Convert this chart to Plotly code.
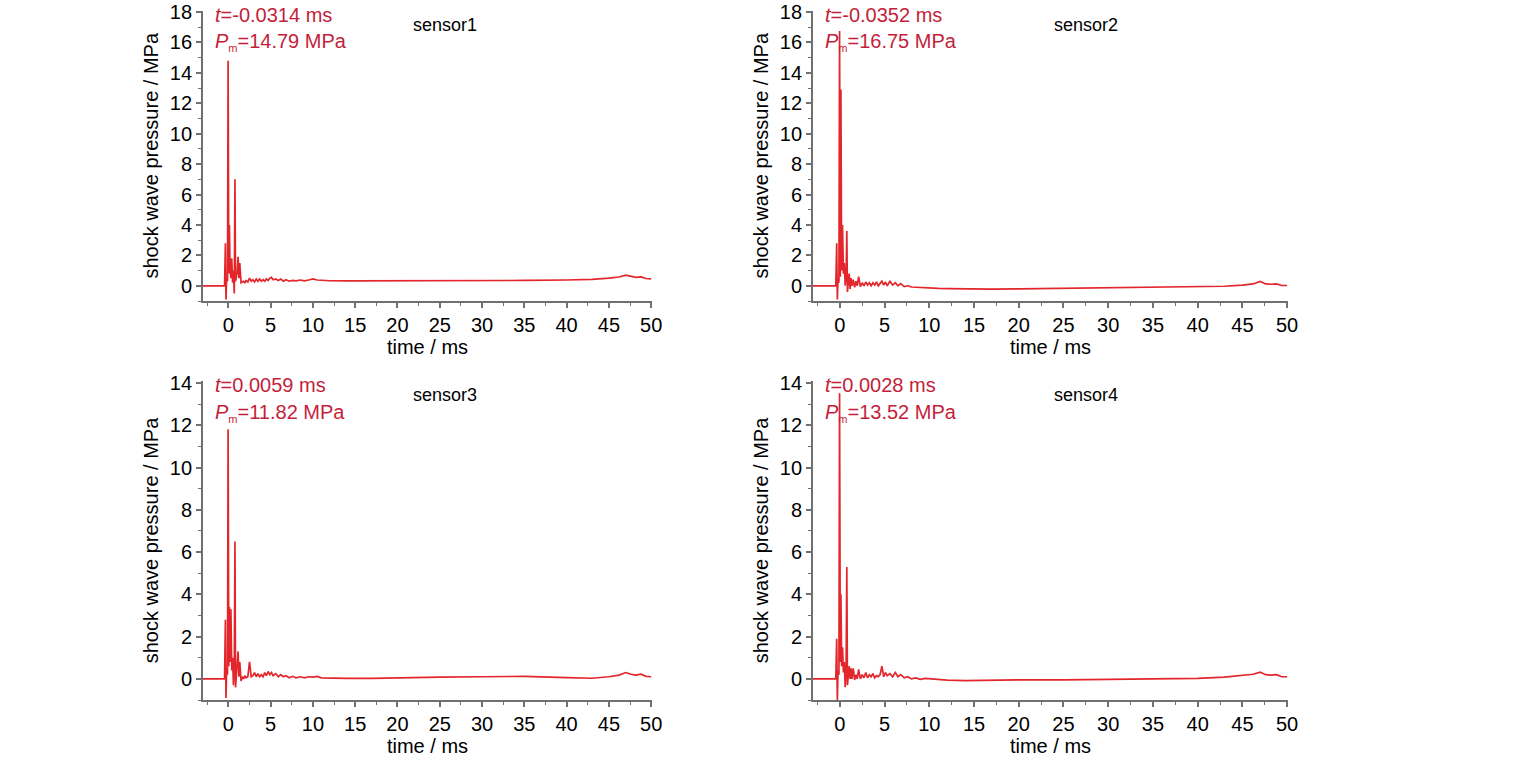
import plotly.graph_objects as go

# ---------------- data ----------------
time_ms = [
    -3.0, -0.45, -0.35, -0.28, -0.2, -0.1, -0.03, 0.05, 0.12, 0.2,
    0.3, 0.4, 0.5, 0.6, 0.7, 0.78, 0.85, 0.95, 1.05, 1.15,
    1.25, 1.35, 1.5, 1.65, 1.8, 1.95, 2.1, 2.3, 2.5, 2.7,
    2.9, 3.1, 3.3, 3.5, 3.7, 3.9, 4.1, 4.3, 4.5, 4.7,
    4.9, 5.1, 5.3, 5.6, 5.9, 6.2, 6.5, 6.8, 7.2, 7.6,
    8.0, 8.5, 9.0, 9.5, 10.0, 10.5, 11.0, 12.0, 14.0, 17.0,
    20.0, 25.0, 30.0, 35.0, 40.0, 43.0, 45.0, 46.2, 47.0, 47.6,
    48.2, 48.8, 49.4, 50.0,
]

sensor1 = [
    0.0, 0.0, 2.8, -0.9, 0.6, 0.3, 14.79, 0.8, 4.0, 1.2,
    0.5, 1.8, 0.2, 1.0, -0.5, 7.0, 0.3, 0.6, 0.9, 1.9,
    0.5, 1.5, 0.2, 0.25, 0.3, 0.2, 0.35, 0.25, 0.5, 0.3,
    0.4, 0.25, 0.45, 0.3, 0.45, 0.3, 0.4, 0.3, 0.45, 0.35,
    0.5, 0.55, 0.4, 0.45, 0.35, 0.45, 0.3, 0.4, 0.3, 0.35,
    0.32, 0.38, 0.33, 0.38, 0.45, 0.38, 0.35, 0.33, 0.32, 0.32,
    0.33, 0.33, 0.33, 0.35, 0.38, 0.42, 0.5, 0.58, 0.7, 0.6,
    0.55, 0.58, 0.48, 0.45,
]

sensor2 = [
    0.0, 0.0, 2.8, -0.9, 0.5, 0.2, 16.75, 0.6, 12.9, 1.0,
    4.0, 0.8, 1.5, 0.0, 0.6, 3.6, -0.4, 0.3, 0.8, -0.2,
    0.5, 0.0, 0.4, -0.1, 0.3, 0.0, 0.6, -0.05, 0.2, 0.0,
    0.25, 0.05, 0.2, 0.0, 0.2, 0.05, 0.25, 0.0, 0.15, 0.3,
    0.05, 0.25, 0.0, 0.3, 0.05, 0.2, 0.0, 0.15, -0.05, 0.0,
    -0.08, -0.1, -0.12, -0.12, -0.15, -0.15, -0.17, -0.18, -0.2, -0.22,
    -0.2, -0.17, -0.12, -0.1, -0.06, -0.03, 0.05, 0.12, 0.28, 0.12,
    0.1, 0.12, 0.02, 0.02,
]

sensor3 = [
    0.0, 0.0, 2.8, -0.9, 0.5, 0.2, 11.82, 0.6, 3.4, 0.8,
    3.3, 0.4, 1.0, -0.3, 0.5, 6.5, -0.4, 0.2, 0.6, 1.3,
    0.1, 0.8, -0.1, 0.1, 0.0, 0.15, 0.05, 0.1, 0.8, 0.1,
    0.15, 0.3, 0.1, 0.25, 0.1, 0.2, 0.1, 0.3, 0.15, 0.35,
    0.2, 0.3, 0.15, 0.25, 0.1, 0.2, 0.1, 0.15, 0.05, 0.12,
    0.05, 0.1, 0.05, 0.1, 0.08, 0.12, 0.05, 0.03, 0.02, 0.02,
    0.05, 0.08, 0.1, 0.12, 0.06, 0.03, 0.1, 0.18, 0.3, 0.22,
    0.18, 0.22, 0.12, 0.1,
]

sensor4 = [
    0.0, 0.0, 1.9, -1.0, 0.4, 0.2, 13.52, 0.8, 4.0, 0.6,
    1.5, 0.3, 0.8, -0.4, 0.4, 5.3, -0.3, 0.3, 0.6, 0.0,
    0.5, 0.0, 0.5, -0.05, 0.2, 0.0, 0.45, 0.0, 0.2, 0.05,
    0.3, 0.05, 0.2, 0.1, 0.25, 0.05, 0.15, 0.1, 0.2, 0.6,
    0.1, 0.3, 0.15, 0.25, 0.1, 0.3, 0.1, 0.2, 0.05, 0.1,
    0.0, 0.05, -0.02, 0.02, 0.0, -0.03, -0.05, -0.06, -0.08, -0.06,
    -0.05, -0.05, -0.02, 0.0, 0.02, 0.08, 0.15, 0.22, 0.32, 0.2,
    0.18, 0.2, 0.1, 0.1,
]

sensor_names = ["sensor1", "sensor2", "sensor3", "sensor4"]
peak_times = ["-0.0314", "-0.0352", "0.0059", "0.0028"]
peak_pressures = ["14.79", "16.75", "11.82", "13.52"]
x_ticks = [0, 5, 10, 15, 20, 25, 30, 35, 40, 45, 50]
y_ticks_top = [0, 2, 4, 6, 8, 10, 12, 14, 16, 18]
y_ticks_bottom = [0, 2, 4, 6, 8, 10, 12, 14]

# ---------------- figure ----------------
W, H = 1516, 762
FONT = "Liberation Sans, Arial, sans-serif"
LINE_RED = "#e3262c"
TEXT_RED = "#c41e3a"
AXIS_GREY = "#707070"


def px_x(px):
    return px / W


def px_y(py):
    return 1 - py / H


series = [sensor1, sensor2, sensor3, sensor4]

# window-pixel boxes of the four plot areas: (left, right, top, bottom)
boxes = [
    (203, 652, 10.5, 301),
    (813, 1288, 10.5, 301),
    (203, 652, 381, 700),
    (813, 1288, 381, 700),
]
y_ranges = [[-1, 18.1], [-1, 18.1], [-1, 14.1], [-1, 14.1]]
y_tickss = [y_ticks_top, y_ticks_top, y_ticks_bottom, y_ticks_bottom]

fig = go.Figure()
layout = dict(
    width=W, height=H,
    margin=dict(l=0, r=0, t=0, b=0, autoexpand=False),
    paper_bgcolor="white", plot_bgcolor="white",
    showlegend=False,
    font=dict(family=FONT, size=20, color="black"),
)

annotations = []
for i in range(4):
    n = "" if i == 0 else str(i + 1)
    fig.add_trace(go.Scatter(
        x=time_ms, y=series[i], mode="lines",
        line=dict(color=LINE_RED, width=1.7),
        xaxis="x" + n, yaxis="y" + n, name=sensor_names[i],
    ))
    l, r, t, b = boxes[i]
    layout["xaxis" + n] = dict(
        domain=[px_x(l), px_x(r)], range=[-3, 50.1], anchor="y" + n,
        automargin=False,
        tickvals=x_ticks, ticks="outside", ticklen=5, tickwidth=1.5,
        tickcolor=AXIS_GREY, showline=True, linecolor=AXIS_GREY, linewidth=1.8,
        showgrid=False, zeroline=False,
        minor=dict(dtick=2.5, tick0=0, ticks="outside", ticklen=3,
                   tickcolor=AXIS_GREY, tickwidth=1.2, showgrid=False),
        tickfont=dict(size=20, color="black"),
        title=dict(text="time / ms", font=dict(size=20, color="black"), standoff=2),
    )
    layout["yaxis" + n] = dict(
        domain=[px_y(b), px_y(t)], range=y_ranges[i], anchor="x" + n,
        automargin=False, ticklabeloverflow="allow",
        tickvals=y_tickss[i], ticks="outside", ticklen=5, tickwidth=1.5,
        tickcolor=AXIS_GREY, showline=True, linecolor=AXIS_GREY, linewidth=1.8,
        showgrid=False, zeroline=False,
        minor=dict(dtick=1, tick0=0, ticks="outside", ticklen=3,
                   tickcolor=AXIS_GREY, tickwidth=1.2, showgrid=False),
        tickfont=dict(size=20, color="black"),
        title=dict(text="shock wave pressure / MPa",
                   font=dict(size=20, color="black"), standoff=6),
    )
    # red peak annotations
    annotations.append(dict(
        xref="paper", yref="paper", x=px_x(l + 10), y=px_y(t + 4),
        xanchor="left", yanchor="middle",
        text="<i>t</i>=" + peak_times[i] + " ms", showarrow=False,
        font=dict(size=20, color=TEXT_RED, family=FONT),
    ))
    annotations.append(dict(
        xref="paper", yref="paper", x=px_x(l + 10), y=px_y(t + 32),
        xanchor="left", yanchor="middle",
        text="<i>P</i><sub><span style='font-size:11px'>m</span></sub>="
             + peak_pressures[i] + " MPa", showarrow=False,
        font=dict(size=20, color=TEXT_RED, family=FONT),
    ))
    # sensor label
    sx = l + 242 if i % 2 == 0 else l + 273
    annotations.append(dict(
        xref="paper", yref="paper", x=px_x(sx), y=px_y(t + 14),
        xanchor="center", yanchor="middle",
        text=sensor_names[i], showarrow=False,
        font=dict(size=18, color="black", family=FONT),
    ))

layout["annotations"] = annotations
fig.update_layout(**layout)
# remove the browser's default 8 px body margin so the figure fills the window
fig.write_html(
    "out.html",
    config={"displayModeBar": False},
    post_script="document.body.style.margin='0';document.body.style.padding='0';",
)
